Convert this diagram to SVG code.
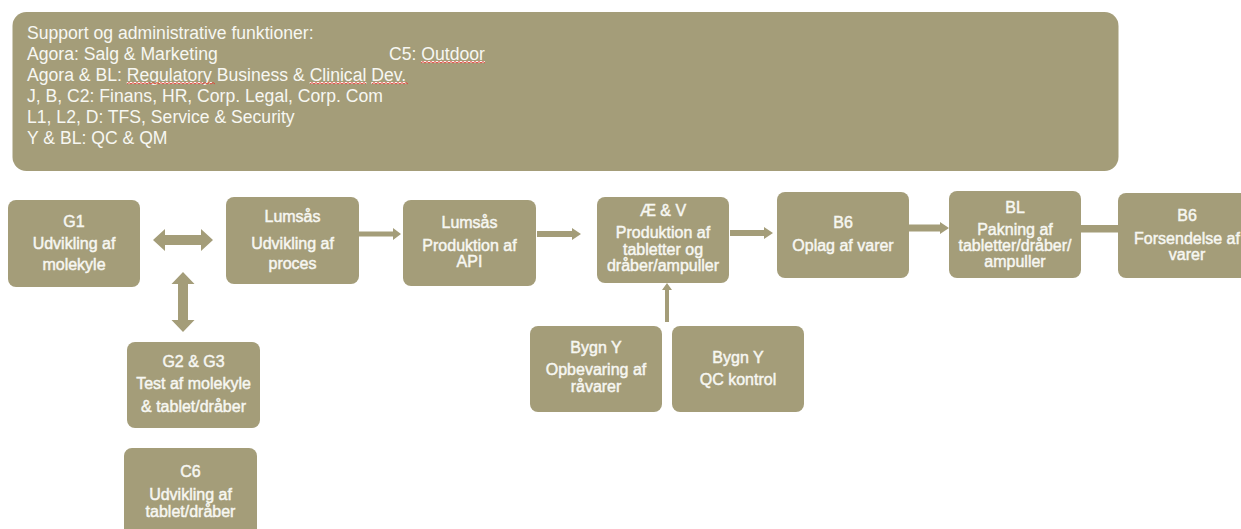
<svg xmlns="http://www.w3.org/2000/svg" width="1241" height="529" viewBox="0 0 1241 529">
<style>
.box{fill:#A49D79;}
.conn{fill:#A49D79;stroke:none;}
.hdr{font-family:"Liberation Sans",Arial,sans-serif;font-size:17.6px;fill:#F7F7F2;}
.t{font-family:"Liberation Sans",Arial,sans-serif;font-size:16px;fill:#F7F7F2;stroke:#F7F7F2;stroke-width:0.45;text-anchor:middle;}
.sq{fill:none;stroke:#E0483C;stroke-width:1;}
</style>
<rect width="1241" height="529" fill="#FFFFFF"/>
<g id="support">
<rect class="box" x="12.5" y="12" width="1106" height="159" rx="14"/>
<text class="hdr" x="27" y="39">Support og administrative funktioner:</text>
<text class="hdr" x="27" y="60">Agora: Salg &amp; Marketing</text>
<text class="hdr" x="389" y="60">C5: <tspan text-decoration="underline">Outdoor</tspan></text>
<text class="hdr" x="27" y="81">Agora &amp; BL: <tspan text-decoration="underline">Regulatory</tspan> Business &amp; <tspan text-decoration="underline">Clinical</tspan> <tspan text-decoration="underline">Dev.</tspan></text>
<text class="hdr" x="27" y="102">J, B, C2: Finans, HR, Corp. Legal, Corp. Com</text>
<text class="hdr" x="27" y="123">L1, L2, D: TFS, Service &amp; Security</text>
<text class="hdr" x="27" y="144">Y &amp; BL: QC &amp; QM</text>
<path class="sq" d="M421,63 l2,-1.5 l2,1.5 l2,-1.5 l2,1.5 l2,-1.5 l2,1.5 l2,-1.5 l2,1.5 l2,-1.5 l2,1.5 l2,-1.5 l2,1.5 l2,-1.5 l2,1.5 l2,-1.5 l2,1.5 l2,-1.5 l2,1.5 l2,-1.5 l2,1.5 l2,-1.5 l2,1.5 l2,-1.5 l2,1.5 l2,-1.5 l2,1.5 l2,-1.5 l2,1.5 l2,-1.5 l2,1.5 l2,-1.5 l2,1.5"/>
<path class="sq" d="M127,84 l2,-1.5 l2,1.5 l2,-1.5 l2,1.5 l2,-1.5 l2,1.5 l2,-1.5 l2,1.5 l2,-1.5 l2,1.5 l2,-1.5 l2,1.5 l2,-1.5 l2,1.5 l2,-1.5 l2,1.5 l2,-1.5 l2,1.5 l2,-1.5 l2,1.5 l2,-1.5 l2,1.5 l2,-1.5 l2,1.5 l2,-1.5 l2,1.5 l2,-1.5 l2,1.5 l2,-1.5 l2,1.5 l2,-1.5 l2,1.5 l2,-1.5 l2,1.5 l2,-1.5 l2,1.5 l2,-1.5 l2,1.5 l2,-1.5 l2,1.5 l2,-1.5 l2,1.5 l2,-1.5 l2,1.5"/>
<path class="sq" d="M310,84 l2,-1.5 l2,1.5 l2,-1.5 l2,1.5 l2,-1.5 l2,1.5 l2,-1.5 l2,1.5 l2,-1.5 l2,1.5 l2,-1.5 l2,1.5 l2,-1.5 l2,1.5 l2,-1.5 l2,1.5 l2,-1.5 l2,1.5 l2,-1.5 l2,1.5 l2,-1.5 l2,1.5 l2,-1.5 l2,1.5 l2,-1.5 l2,1.5 l2,-1.5 l2,1.5"/>
<path class="sq" d="M372,84 l2,-1.5 l2,1.5 l2,-1.5 l2,1.5 l2,-1.5 l2,1.5 l2,-1.5 l2,1.5 l2,-1.5 l2,1.5 l2,-1.5 l2,1.5 l2,-1.5 l2,1.5 l2,-1.5 l2,1.5 l2,-1.5 l2,1.5"/>
</g>
<g id="connectors">
<polygon class="conn" points="153,240 165,229 165,235 201,235 201,229 213,240 201,251 201,245 165,245 165,251"/>
<polygon class="conn" points="183,272 194.5,284 188,284 188,320 194.5,320 183,332 171.5,320 178,320 178,284 171.5,284"/>
<polygon class="conn" points="359,231.5 393,231.5 393,228 401,234 393,240 393,236.5 359,236.5"/>
<polygon class="conn" points="537,231 572,231 572,228 581,234 572,240 572,237 537,237"/>
<polygon class="conn" points="730,230 764,230 764,227 773,233 764,239 764,236 730,236"/>
<polygon class="conn" points="909,224.5 940,224.5 940,222 949,228 940,234 940,231.5 909,231.5"/>
<rect class="conn" x="1081" y="225" width="38" height="7.5"/>
<polygon class="conn" points="665,322 665,290 662,290 667,283 672,290 669,290 669,322"/>
</g>
<g id="g1">
<rect class="box" x="8" y="200" width="132" height="87" rx="8"/>
<text class="t" x="74" y="227">G1</text>
<text class="t" x="74" y="249">Udvikling af</text>
<text class="t" x="74" y="270">molekyle</text>
</g>
<g id="lumsaas-udvikling">
<rect class="box" x="226" y="197" width="133" height="87" rx="8"/>
<text class="t" x="292.5" y="222">Lumsås</text>
<text class="t" x="292.5" y="249">Udvikling af</text>
<text class="t" x="292.5" y="269">proces</text>
</g>
<g id="lumsaas-produktion">
<rect class="box" x="403" y="200" width="133" height="86" rx="8"/>
<text class="t" x="469.5" y="228">Lumsås</text>
<text class="t" x="469.5" y="250.5">Produktion af</text>
<text class="t" x="469.5" y="267">API</text>
</g>
<g id="ae-v">
<rect class="box" x="597" y="197" width="132" height="86" rx="8"/>
<text class="t" x="663" y="215.5">Æ &amp; V</text>
<text class="t" x="663" y="238">Produktion af</text>
<text class="t" x="663" y="255">tabletter og</text>
<text class="t" x="663" y="271">dråber/ampuller</text>
</g>
<g id="b6-oplag">
<rect class="box" x="777" y="192" width="132" height="86" rx="8"/>
<text class="t" x="843" y="227.5">B6</text>
<text class="t" x="843" y="251">Oplag af varer</text>
</g>
<g id="bl">
<rect class="box" x="949" y="191" width="132" height="87" rx="8"/>
<text class="t" x="1015" y="212.5">BL</text>
<text class="t" x="1015" y="234.5">Pakning af</text>
<text class="t" x="1015" y="251">tabletter/dråber/</text>
<text class="t" x="1015" y="267">ampuller</text>
</g>
<g id="b6-forsendelse">
<rect class="box" x="1118" y="193" width="139" height="85" rx="8"/>
<text class="t" x="1187" y="221">B6</text>
<text class="t" x="1187" y="244">Forsendelse af</text>
<text class="t" x="1187" y="260">varer</text>
</g>
<g id="g2-g3">
<rect class="box" x="127" y="342" width="133" height="86" rx="8"/>
<text class="t" x="193.5" y="366.5">G2 &amp; G3</text>
<text class="t" x="193.5" y="389">Test af molekyle</text>
<text class="t" x="193.5" y="411.5">&amp; tablet/dråber</text>
</g>
<g id="c6">
<rect class="box" x="124" y="448" width="133" height="90" rx="8"/>
<text class="t" x="190.5" y="476.5">C6</text>
<text class="t" x="190.5" y="500">Udvikling af</text>
<text class="t" x="190.5" y="516.5">tablet/dråber</text>
</g>
<g id="bygn-y-opbevaring">
<rect class="box" x="530" y="326" width="132" height="86" rx="8"/>
<text class="t" x="596" y="353">Bygn Y</text>
<text class="t" x="596" y="375">Opbevaring af</text>
<text class="t" x="596" y="391.5">råvarer</text>
</g>
<g id="bygn-y-qc">
<rect class="box" x="672" y="326" width="132" height="86" rx="8"/>
<text class="t" x="738" y="363">Bygn Y</text>
<text class="t" x="738" y="385">QC kontrol</text>
</g>
</svg>
